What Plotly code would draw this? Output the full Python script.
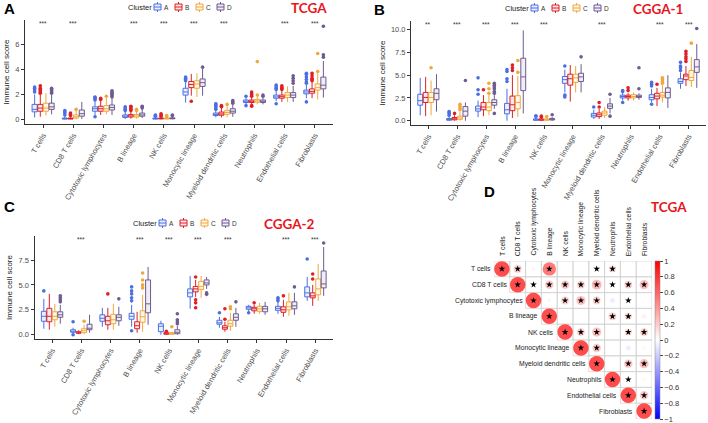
import plotly.graph_objects as go

CELLS = ["T cells", "CD8 T cells", "Cytotoxic lymphocytes", "B lineage", "NK cells",
         "Monocytic lineage", "Myeloid dendritic cells", "Neutrophils",
         "Endothelial cells", "Fibroblasts"]
CLUSTERS = ["A", "B", "C", "D"]
CLUSTER_COLORS = {"A": "#4A6FE3", "B": "#DE1F26", "C": "#F1A73A", "D": "#6E5B92"}

# box statistics per cell type: (lower whisker, q1, median, q3, upper whisker)
TCGA_STATS = {
    "A": [(0.15, 0.6, 0.8, 1.2, 2.0), (0, 0.02, 0.05, 0.1, 0.25), (0.3, 0.65, 0.85, 1.0, 1.45),
          (0.02, 0.15, 0.25, 0.35, 0.6), (0, 0.02, 0.05, 0.1, 0.2), (1.35, 1.95, 2.2, 2.5, 3.0),
          (0.15, 0.3, 0.38, 0.5, 0.75), (1.15, 1.35, 1.45, 1.55, 1.75), (1.45, 1.7, 1.8, 1.95, 2.3),
          (1.7, 2.05, 2.2, 2.35, 2.8)],
    "B": [(0.2, 0.65, 0.9, 1.2, 2.0), (0, 0.02, 0.06, 0.1, 0.2), (0.35, 0.65, 0.85, 1.05, 1.5),
          (0.05, 0.18, 0.27, 0.38, 0.6), (0, 0.03, 0.06, 0.1, 0.18), (1.9, 2.55, 2.8, 3.05, 3.65),
          (0.15, 0.33, 0.43, 0.58, 0.9), (1.2, 1.35, 1.45, 1.55, 1.75), (1.4, 1.7, 1.82, 1.95, 2.3),
          (1.7, 2.1, 2.25, 2.45, 3.0)],
    "C": [(0.3, 0.65, 0.9, 1.3, 2.1), (0, 0.1, 0.2, 0.35, 0.7), (0.4, 0.65, 0.85, 1.1, 1.7),
          (0.05, 0.18, 0.27, 0.38, 0.6), (0, 0.03, 0.05, 0.09, 0.15), (1.8, 2.5, 2.85, 3.1, 3.7),
          (0.15, 0.4, 0.55, 0.7, 1.05), (1.2, 1.38, 1.48, 1.6, 1.8), (1.4, 1.75, 1.95, 2.15, 2.65),
          (1.6, 2.35, 2.55, 2.85, 3.7)],
    "D": [(0.4, 0.8, 1.0, 1.3, 2.0), (0.02, 0.25, 0.45, 0.75, 1.4), (0.35, 0.75, 0.95, 1.15, 1.7),
          (0.1, 0.25, 0.35, 0.5, 0.8), (0, 0.04, 0.07, 0.12, 0.2), (1.9, 2.65, 2.95, 3.25, 4.15),
          (0.2, 0.5, 0.65, 0.85, 1.2), (1.2, 1.35, 1.45, 1.55, 1.75), (1.4, 1.75, 1.95, 2.15, 2.7),
          (1.75, 2.45, 2.75, 3.4, 4.7)],
}
TCGA_OUTLIERS = {
    "A": [[2.2, 2.35, 2.5, 2.6], [0.35, 0.5, 0.6, 0.7], [0.2, 1.55, 1.65, 1.75, 1.8], [0.7, 0.8, 0.9, 1.0],
          [0.25, 0.3, 0.35], [3.1, 3.2, 3.3, 3.4], [0.8, 0.9, 1.0, 1.1, 1.2, 1.25], [1.1, 1.85],
          [1.25, 2.4, 2.5, 2.6, 2.75], [1.4, 2.9, 3.0, 3.2, 3.4, 3.6, 3.7]],
    "B": [[2.1, 2.2, 2.3, 2.4, 2.5, 2.7], [0.3, 0.4, 0.5], [1.6, 1.7], [0.7, 0.8, 0.9, 1.0, 1.05],
          [0.25, 0.35, 0.45], [1.45], [1.0, 1.05, 1.1], [1.05, 1.1, 1.85, 1.95, 2.05, 2.2],
          [2.4, 2.5, 2.6, 2.7], [3.1, 3.2, 3.3, 3.5, 3.7]],
    "C": [[], [0.8], [1.85], [0.7, 0.8], [0.2, 0.3], [], [1.2], [1.95, 4.65], [], [3.85, 5.3]],
    "D": [[2.1, 2.2, 2.3, 2.4, 2.5], [], [1.8, 1.9, 2.0, 2.1, 2.2, 2.3], [0.9, 1.0, 1.05], [0.3, 0.35],
          [4.2], [1.3, 1.4, 1.5], [1.85, 1.95], [2.9, 3.1, 3.3, 3.5], [5.0, 5.2, 7.5]],
}
TCGA_SIG = ["***", "***", "", "***", "***", "***", "***", "", "***", "***"]

CGGA1_STATS = {
    "A": [(0.6, 1.7, 2.2, 2.9, 4.7), (0, 0.05, 0.12, 0.25, 0.5), (0.4, 1.05, 1.3, 1.6, 2.2),
          (0, 0.75, 1.2, 1.9, 3.5), (0, 0.05, 0.1, 0.2, 0.3), (3.1, 4.1, 4.5, 4.85, 5.6),
          (0.2, 0.4, 0.6, 0.8, 1.2), (2.2, 2.5, 2.65, 2.8, 3.1), (2.0, 2.3, 2.55, 2.85, 3.5),
          (3.5, 4.1, 4.3, 4.6, 5.3)],
    "B": [(0.5, 2.0, 2.55, 3.1, 4.8), (0, 0.1, 0.2, 0.35, 0.6), (0.5, 1.2, 1.5, 2.0, 2.8),
          (0.3, 1.1, 1.75, 2.7, 5.0), (0, 0.05, 0.1, 0.2, 0.3), (2.1, 3.9, 4.6, 5.1, 6.1),
          (0.2, 0.45, 0.65, 0.85, 1.3), (2.2, 2.5, 2.65, 2.8, 3.0), (1.6, 2.4, 2.7, 3.0, 3.6),
          (3.8, 4.5, 4.9, 5.1, 6.0)],
    "C": [(0.6, 2.0, 2.55, 3.1, 4.4), (0, 0.15, 0.3, 0.5, 1.0), (0.6, 1.1, 1.5, 2.0, 2.8),
          (0.4, 1.3, 2.0, 2.75, 4.9), (0, 0.05, 0.12, 0.2, 0.3), (3.1, 4.2, 4.7, 5.1, 6.0),
          (0.3, 0.6, 0.85, 1.05, 1.5), (2.2, 2.5, 2.65, 2.85, 3.1), (2.0, 2.6, 2.8, 3.1, 3.9),
          (3.7, 4.4, 4.75, 5.5, 7.0)],
    "D": [(1.0, 2.3, 3.0, 3.5, 5.1), (0, 0.5, 1.05, 1.55, 2.0), (1.3, 1.7, 2.0, 2.3, 2.8),
          (0.8, 3.3, 4.8, 6.85, 9.9), (0, 0.08, 0.15, 0.25, 0.4), (3.1, 4.3, 4.8, 5.2, 6.2),
          (0.8, 1.35, 1.6, 1.85, 2.5), (2.3, 2.55, 2.65, 2.8, 3.0), (1.4, 2.5, 3.1, 3.6, 5.0),
          (3.6, 5.3, 5.9, 6.7, 8.4)],
}
CGGA1_OUTLIERS = {
    "A": [[], [0.6, 0.75, 0.9, 1.0], [2.9, 3.4, 4.7], [4.3, 4.6, 5.4, 5.6], [0.45, 0.55], [2.6, 2.8, 6.0],
          [1.5], [2.0, 3.2, 3.3], [1.8, 3.8, 4.0, 4.2], [5.5, 5.8, 6.0, 6.4]],
    "B": [[], [0.8], [3.4], [5.5, 5.8, 6.1], [0.4, 0.5], [], [1.5, 2.0], [3.3, 3.6], [4.0],
          [6.5, 6.8, 7.0, 7.3, 7.6]],
    "C": [[5.8], [1.2, 1.4, 1.6, 1.8], [3.0, 3.5, 4.1], [5.3, 6.6], [0.45], [], [], [],
          [4.1, 4.3, 4.5, 4.7], [8.5]],
    "D": [[], [4.4], [0.8, 3.0, 3.2, 3.5, 3.7, 3.9, 4.1], [], [0.65], [7.0], [0.5, 2.9], [3.5, 5.8], [],
          [10.1]],
}
CGGA1_SIG = ["**", "***", "***", "***", "***", "", "***", "", "***", "***"]

CGGA2_STATS = {
    "A": [(0.6, 1.35, 1.85, 2.35, 3.6), (0.1, 0.25, 0.35, 0.5, 0.7), (0.8, 1.35, 1.65, 2.0, 2.7),
          (0.8, 1.55, 1.85, 2.15, 3.0), (0, 0.3, 0.85, 1.1, 1.4), (2.6, 3.8, 4.2, 4.6, 5.9),
          (0.7, 1.05, 1.2, 1.45, 1.8), (2.3, 2.55, 2.7, 2.85, 3.0), (2.1, 2.45, 2.65, 2.85, 3.3),
          (3.4, 3.8, 4.2, 4.8, 5.8)],
    "B": [(0.5, 1.3, 1.85, 2.65, 4.1), (0.05, 0.15, 0.2, 0.3, 0.45), (0.5, 1.0, 1.4, 1.85, 2.7),
          (0.2, 0.6, 0.9, 1.3, 2.3), (0, 0.05, 0.1, 0.2, 0.3), (3.8, 4.3, 4.6, 4.85, 5.5),
          (0.3, 0.55, 0.7, 0.9, 1.3), (2.1, 2.4, 2.6, 2.75, 3.0), (1.8, 2.25, 2.5, 2.8, 3.5),
          (2.9, 3.7, 3.9, 4.2, 5.0)],
    "C": [(0.8, 1.5, 1.85, 2.3, 3.1), (0.05, 0.2, 0.4, 0.6, 1.0), (0.5, 1.1, 1.5, 2.05, 3.1),
          (0.3, 1.25, 1.8, 2.4, 4.0), (0, 0.05, 0.1, 0.2, 0.3), (3.7, 4.55, 4.85, 5.35, 5.9),
          (0.4, 0.85, 1.1, 1.45, 2.2), (2.1, 2.35, 2.6, 2.85, 3.2), (1.9, 2.5, 2.8, 3.3, 4.2),
          (3.4, 4.0, 4.6, 5.6, 7.1)],
    "D": [(1.1, 1.75, 2.0, 2.3, 3.0), (0.2, 0.5, 0.65, 1.05, 2.0), (0.9, 1.4, 1.75, 2.0, 2.8),
          (1.0, 2.2, 3.1, 5.5, 6.8), (0, 0.1, 0.25, 0.5, 0.9), (4.6, 5.0, 5.2, 5.5, 5.8),
          (0.8, 1.45, 1.75, 2.1, 2.7), (2.0, 2.3, 2.6, 2.85, 3.3), (2.0, 2.6, 2.9, 3.3, 4.2),
          (3.9, 4.7, 5.1, 6.4, 8.8)],
}
CGGA2_OUTLIERS = {
    "A": [[4.4], [0.0, 1.3], [], [0.4, 3.4, 3.7, 4.1, 4.4, 4.8], [], [], [2.2], [2.2], [3.4, 3.6, 3.7],
          [7.6]],
    "B": [[], [], [4.1], [], [0.35], [2.7, 3.2, 3.5, 5.8], [1.55, 2.6], [3.2], [3.9], [5.6, 6.1]],
    "C": [[], [1.35], [], [4.7, 5.0, 5.5, 6.2], [0.8], [], [2.6, 2.8], [], [], []],
    "D": [[3.3, 3.5, 3.7, 3.9], [], [3.6], [], [1.1, 1.3, 1.5, 2.1], [4.05, 4.2], [3.3], [], [4.8], [9.2]],
}
CGGA2_SIG = ["", "***", "", "***", "***", "***", "***", "", "***", "***"]

# TCGA correlation, upper triangle: row i holds columns i..9
CORR_UPPER = [
    [1, 0.25, -0.05, 0.75, 0.02, 0.02, 0.08, 0.2, 0.02, 0.02],
    [1, 0.06, 0.3, 0.3, 0.25, 0.4, 0.06, 0.25, 0.35],
    [1, -0.05, 0.25, 0.35, 0.25, -0.1, 0.06, 0.02],
    [1, 0.02, 0.02, 0.0, 0.25, 0.2, 0.08],
    [1, 0.25, 0.35, 0.02, 0.2, 0.25],
    [1, 0.3, 0.02, -0.1, 0.05],
    [1, 0.0, 0.3, 0.35],
    [1, 0.06, 0.05],
    [1, 0.3],
    [1],
]
CORR_SIG = [
    [1, 1, 0, 1, 0, 0, 1, 1, 0, 0],
    [1, 1, 1, 1, 1, 1, 1, 1, 1],
    [1, 0, 1, 1, 1, 0, 1, 0],
    [1, 0, 0, 0, 1, 1, 0],
    [1, 1, 1, 0, 1, 1],
    [1, 1, 0, 0, 0],
    [1, 0, 1, 1],
    [1, 1, 0],
    [1, 1],
    [1],
]
CBAR_TICKS = [1, 0.8, 0.6, 0.4, 0.2, 0, -0.2, -0.4, -0.6, -0.8, -1]

W, H = 708, 423
FONT = "Liberation Sans"
DODGE = 0.75 / 4


def rgba(hex_color, alpha):
    h = hex_color.lstrip("#")
    return "rgba({},{},{},{})".format(int(h[0:2], 16), int(h[2:4], 16), int(h[4:6], 16), alpha)


def px_x(x0, x1):
    return [x0 / W, x1 / W]


def px_y(top, bottom):
    return [1 - bottom / H, 1 - top / H]


fig = go.Figure()


def add_box_panel(stats, outliers, sig, ax):
    xref = "x" if ax == 1 else f"x{ax}"
    yref = "y" if ax == 1 else f"y{ax}"
    for k, cl in enumerate(CLUSTERS):
        color = CLUSTER_COLORS[cl]
        pos = [i + (k - 1.5) * DODGE for i in range(len(CELLS))]
        rows = stats[cl]
        fig.add_trace(go.Box(
            x=pos,
            lowerfence=[r[0] for r in rows], q1=[r[1] for r in rows], median=[r[2] for r in rows],
            q3=[r[3] for r in rows], upperfence=[r[4] for r in rows],
            width=DODGE * 0.9, whiskerwidth=0, boxpoints=False,
            line=dict(color=color, width=1), fillcolor=rgba(color, 0.1),
            name=cl, showlegend=False, xaxis=xref, yaxis=yref, hoverinfo="skip",
        ))
        ox, oy = [], []
        for i, vals in enumerate(outliers[cl]):
            for v in vals:
                ox.append(pos[i])
                oy.append(v)
        fig.add_trace(go.Scatter(
            x=ox, y=oy, mode="markers", marker=dict(color=color, size=3.6),
            showlegend=False, xaxis=xref, yaxis=yref, hoverinfo="skip",
        ))
    for i, s in enumerate(sig):
        if s:
            fig.add_annotation(x=i, y=0.97, xref=xref, yref=f"{yref} domain", text=s,
                               showarrow=False, font=dict(size=6.5, color="#333333"),
                               yanchor="middle")


def add_cluster_key(x0, yc):
    """ggplot-style 'Cluster' key drawn at pixel position (x0, yc)."""
    fig.add_annotation(x=x0 / W, y=1 - yc / H, xref="paper", yref="paper", text="Cluster",
                       showarrow=False, xanchor="left", yanchor="middle", xshift=-2,
                       font=dict(size=7.5, color="#222222"))
    for k, cl in enumerate(CLUSTERS):
        color = CLUSTER_COLORS[cl]
        ix = x0 + 26 + k * 21
        fig.add_shape(type="rect", xref="paper", yref="paper",
                      x0=ix / W, x1=(ix + 7) / W, y0=1 - (yc + 3) / H, y1=1 - (yc - 3) / H,
                      line=dict(color=color, width=1), fillcolor=rgba(color, 0.1))
        fig.add_shape(type="line", xref="paper", yref="paper",
                      x0=ix / W, x1=(ix + 7) / W, y0=1 - yc / H, y1=1 - yc / H,
                      line=dict(color=color, width=1))
        for a, b in [(yc - 5, yc - 3), (yc + 3, yc + 5)]:
            fig.add_shape(type="line", xref="paper", yref="paper",
                          x0=(ix + 3.5) / W, x1=(ix + 3.5) / W, y0=1 - a / H, y1=1 - b / H,
                          line=dict(color=color, width=1))
        fig.add_annotation(x=(ix + 10) / W, y=1 - yc / H, xref="paper", yref="paper", text=cl,
                           showarrow=False, xanchor="left", yanchor="middle", xshift=-2,
                           font=dict(size=6.5, color="#333333"))


add_box_panel(TCGA_STATS, TCGA_OUTLIERS, TCGA_SIG, 1)
add_box_panel(CGGA1_STATS, CGGA1_OUTLIERS, CGGA1_SIG, 2)
add_box_panel(CGGA2_STATS, CGGA2_OUTLIERS, CGGA2_SIG, 3)
add_cluster_key(128, 7)
add_cluster_key(505, 8)
add_cluster_key(133, 223)

# correlation panel (D)
cx, cy, cval, csize, hover = [], [], [], [], []
sx, sy = [], []
for i, row in enumerate(CORR_UPPER):
    for d, r in enumerate(row):
        j = i + d
        cx.append(j)
        cy.append(i)
        cval.append(r)
        csize.append(15.5 * abs(r) ** 0.5)
        hover.append(f"{CELLS[i]} vs {CELLS[j]}: {r}")
        if CORR_SIG[i][d]:
            sx.append(j)
            sy.append(i)
        fig.add_shape(type="rect", xref="x4", yref="y4", x0=j - 0.5, x1=j + 0.5, y0=i - 0.5, y1=i + 0.5,
                      line=dict(color="#D0D0D0", width=0.7), layer="below")

fig.add_trace(go.Scatter(
    x=cx, y=cy, mode="markers", xaxis="x4", yaxis="y4", showlegend=False,
    text=hover, hoverinfo="text",
    marker=dict(size=csize, color=cval, cmin=-1, cmax=1, line=dict(width=0),
                colorscale=[[0, "#0000FF"], [0.5, "#FFFFFF"], [1, "#FF0000"]],
                showscale=True,
                colorbar=dict(x=655 / W, xanchor="left", y=1 - 419 / H, yanchor="bottom",
                              len=158 / H, lenmode="fraction", thickness=5,
                              outlinewidth=0.5, outlinecolor="#888888",
                              tickvals=CBAR_TICKS, ticks="outside", ticklen=3,
                              ticklabeloverflow="allow",
                              tickfont=dict(size=7.5, color="#333333"), xpad=0, ypad=0)),
))
fig.add_trace(go.Scatter(
    x=sx, y=sy, mode="markers", xaxis="x4", yaxis="y4", showlegend=False, hoverinfo="skip",
    marker=dict(symbol="star", size=5, color="black", line=dict(width=0)),
))
for i, name in enumerate(CELLS):
    fig.add_annotation(x=i - 0.5, y=i, xref="x4", yref="y4", text=name, showarrow=False,
                       xanchor="right", xshift=-1, font=dict(size=6.8, color="#222222"))
    fig.add_annotation(x=i, y=-0.5, xref="x4", yref="y4", text=name, showarrow=False,
                       textangle=-90, xanchor="center", yanchor="bottom", yshift=3,
                       font=dict(size=6.8, color="#222222"))

box_x = dict(tickmode="array", tickvals=list(range(len(CELLS))), ticktext=CELLS, tickangle=-60,
             range=[-0.6, 9.6], showline=True, linecolor="#333333", linewidth=1, ticks="outside",
             ticklen=3, tickcolor="#333333", tickfont=dict(size=7.6, color="#4D4D4D"),
             showgrid=False, zeroline=False)
box_y = dict(showline=True, linecolor="#333333", linewidth=1, ticks="outside", ticklen=3,
             tickcolor="#333333", tickfont=dict(size=7.5, color="#4D4D4D"), showgrid=False,
             zeroline=False, title=dict(text="Immune cell score", font=dict(size=8, color="#222222"),
                                        standoff=4))

fig.update_layout(
    width=W, height=H, margin=dict(l=0, r=0, t=0, b=0),
    paper_bgcolor="white", plot_bgcolor="white", font=dict(family=FONT),
    boxmode="overlay", showlegend=False,
    xaxis=dict(domain=px_x(25, 333), anchor="y", **box_x),
    yaxis=dict(domain=px_y(20, 124), anchor="x", range=[-0.38, 8.0], tickvals=[0, 2, 4, 6], **box_y),
    xaxis2=dict(domain=px_x(411, 706), anchor="y2", **box_x),
    yaxis2=dict(domain=px_y(21, 125), anchor="x2", range=[-0.47, 10.93],
                tickvals=[0, 2.5, 5, 7.5, 10], ticktext=["0.0", "2.5", "5.0", "7.5", "10.0"], **box_y),
    xaxis3=dict(domain=px_x(34.5, 333), anchor="y3", **box_x),
    yaxis3=dict(domain=px_y(236, 339), anchor="x3", range=[-0.43, 9.91],
                tickvals=[0, 2.5, 5, 7.5], ticktext=["0.0", "2.5", "5.0", "7.5"], **box_y),
    xaxis4=dict(domain=px_x(494, 652), anchor="y4", range=[-0.5, 9.5], visible=False),
    yaxis4=dict(domain=px_y(261, 419), anchor="x4", range=[9.5, -0.5], visible=False),
)

# panel letters and cohort titles
for letter, x, y in [("A", 2, 8), ("B", 372, 9), ("C", 2, 206), ("D", 482, 191)]:
    fig.add_annotation(x=x / W, y=1 - y / H, xref="paper", yref="paper", text=f"<b>{letter}</b>",
                       showarrow=False, xanchor="left", yanchor="middle",
                       font=dict(size=15, color="black", family=FONT))
for title, x, y in [("TCGA", 309, 8), ("CGGA-1", 658, 9), ("CGGA-2", 289, 224), ("TCGA", 669, 207)]:
    fig.add_annotation(x=x / W, y=1 - y / H, xref="paper", yref="paper", text=f"<b>{title}</b>",
                       showarrow=False, xanchor="center", yanchor="middle",
                       font=dict(size=13.5, color="#E8141B", family="Lato"))

# the page's default 8px body margin would push the figure off the window
fig.write_html("out.html", config={"displayModeBar": False},
               post_script="document.body.style.margin='0';")
